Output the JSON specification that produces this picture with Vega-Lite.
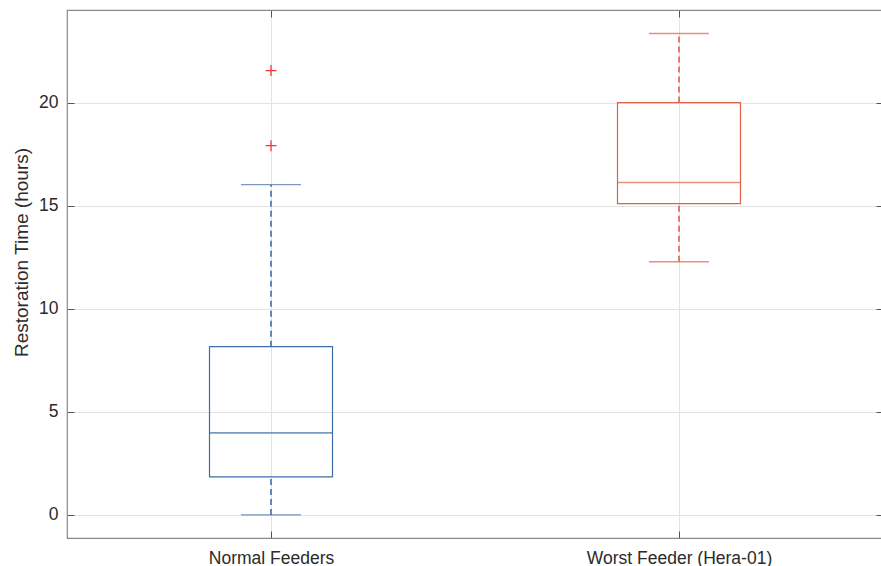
{
  "$schema": "https://vega.github.io/schema/vega-lite/v6.json",
  "width": 816,
  "height": 528,
  "autosize": "none",
  "padding": {"left": 67, "top": 10, "right": 0, "bottom": 28},
  "background": "white",
  "config": {
    "view": {"stroke": "#8a8a8a", "strokeWidth": 1.2},
    "font": "Liberation Sans",
    "axis": {
      "labelFont": "Liberation Sans",
      "titleFont": "Liberation Sans",
      "labelColor": "#2b2b2b",
      "titleColor": "#2b2b2b",
      "labelFontSize": 17.5,
      "titleFontSize": 19,
      "titleFontWeight": "normal",
      "labelLimit": 0,
      "domain": false,
      "tickColor": "#555555",
      "tickSize": -7,
      "gridColor": "#e3e3e3",
      "gridWidth": 1
    }
  },
  "datasets": {
    "boxes": [
      {"group": "Normal Feeders", "lo": 0, "q1": 1.84, "med": 3.98, "q3": 8.16, "hi": 16.02},
      {"group": "Worst Feeder (Hera-01)", "lo": 12.28, "q1": 15.1, "med": 16.12, "q3": 20.0, "hi": 23.35}
    ],
    "outliers": [
      {"group": "Normal Feeders", "value": 21.55},
      {"group": "Normal Feeders", "value": 17.91}
    ]
  },
  "resolve": {"axis": {"x": "independent", "y": "independent"}},
  "layer": [
    {
      "data": {"name": "boxes"},
      "mark": {"type": "rule", "strokeDash": [6, 4], "strokeWidth": 1.6},
      "encoding": {
        "x": {"field": "group", "type": "nominal", "sort": null,
          "scale": {"type": "point", "padding": 0.5, "domain": ["Normal Feeders", "Worst Feeder (Hera-01)"]},
          "axis": {"orient": "bottom", "title": null, "labelAngle": 0, "labelPadding": 18, "labelLimit": 0, "grid": true}},
        "y": {"field": "q3", "type": "quantitative",
          "scale": {"domain": [-1.12, 24.49], "nice": false, "zero": false},
          "axis": {"orient": "left", "title": "Restoration Time (hours)", "values": [0, 5, 10, 15, 20], "labelPadding": 16, "titlePadding": 7, "titleY": 242, "grid": true}},
        "y2": {"field": "hi"},
        "color": {"field": "group", "type": "nominal", "scale": {"range": ["#3e6ea8", "#e0604a"]}, "legend": null}
      }
    },
    {
      "data": {"name": "boxes"},
      "mark": {"type": "rule", "strokeDash": [6, 4], "strokeWidth": 1.6},
      "encoding": {
        "x": {"field": "group", "type": "nominal", "sort": null,
          "axis": {"orient": "top", "title": null, "labels": false, "grid": false}},
        "y": {"field": "lo", "type": "quantitative",
          "axis": {"orient": "right", "title": null, "labels": false, "values": [0, 5, 10, 15, 20], "grid": false}},
        "y2": {"field": "q1"},
        "color": {"field": "group", "type": "nominal", "legend": null}
      }
    },
    {
      "data": {"name": "boxes"},
      "mark": {"type": "bar", "width": 123, "fillOpacity": 0, "strokeWidth": 1.2},
      "encoding": {
        "x": {"field": "group", "type": "nominal", "sort": null, "axis": null},
        "y": {"field": "q1", "type": "quantitative", "axis": null},
        "y2": {"field": "q3"},
        "stroke": {"field": "group", "type": "nominal", "scale": {"range": ["#3e6ea8", "#e0604a"]}, "legend": null}
      }
    },
    {
      "data": {"name": "boxes"},
      "mark": {"type": "tick", "size": 123, "thickness": 1.6, "orient": "horizontal"},
      "encoding": {
        "x": {"field": "group", "type": "nominal", "sort": null, "axis": null},
        "y": {"field": "med", "type": "quantitative", "axis": null},
        "color": {"field": "group", "type": "nominal", "scale": {"range": ["#2c5b97", "#e8937f"]}, "legend": null}
      }
    },
    {
      "data": {"name": "boxes"},
      "mark": {"type": "tick", "size": 60, "thickness": 1.4, "orient": "horizontal"},
      "encoding": {
        "x": {"field": "group", "type": "nominal", "sort": null, "axis": null},
        "y": {"field": "hi", "type": "quantitative", "axis": null},
        "color": {"field": "group", "type": "nominal", "legend": null}
      }
    },
    {
      "data": {"name": "boxes"},
      "mark": {"type": "tick", "size": 60, "thickness": 1.4, "orient": "horizontal"},
      "encoding": {
        "x": {"field": "group", "type": "nominal", "sort": null, "axis": null},
        "y": {"field": "lo", "type": "quantitative", "axis": null},
        "color": {"field": "group", "type": "nominal", "scale": {"range": ["#6f95c6", "#e87a66"]}, "legend": null}
      }
    },
    {
      "data": {"name": "outliers"},
      "mark": {"type": "point", "shape": "M-1,0L1,0M0,-1L0,1", "size": 121, "filled": false, "strokeWidth": 1.3, "color": "#f03a3a", "opacity": 1},
      "encoding": {
        "x": {"field": "group", "type": "nominal", "sort": null, "axis": null},
        "y": {"field": "value", "type": "quantitative", "axis": null}
      }
    }
  ]
}
